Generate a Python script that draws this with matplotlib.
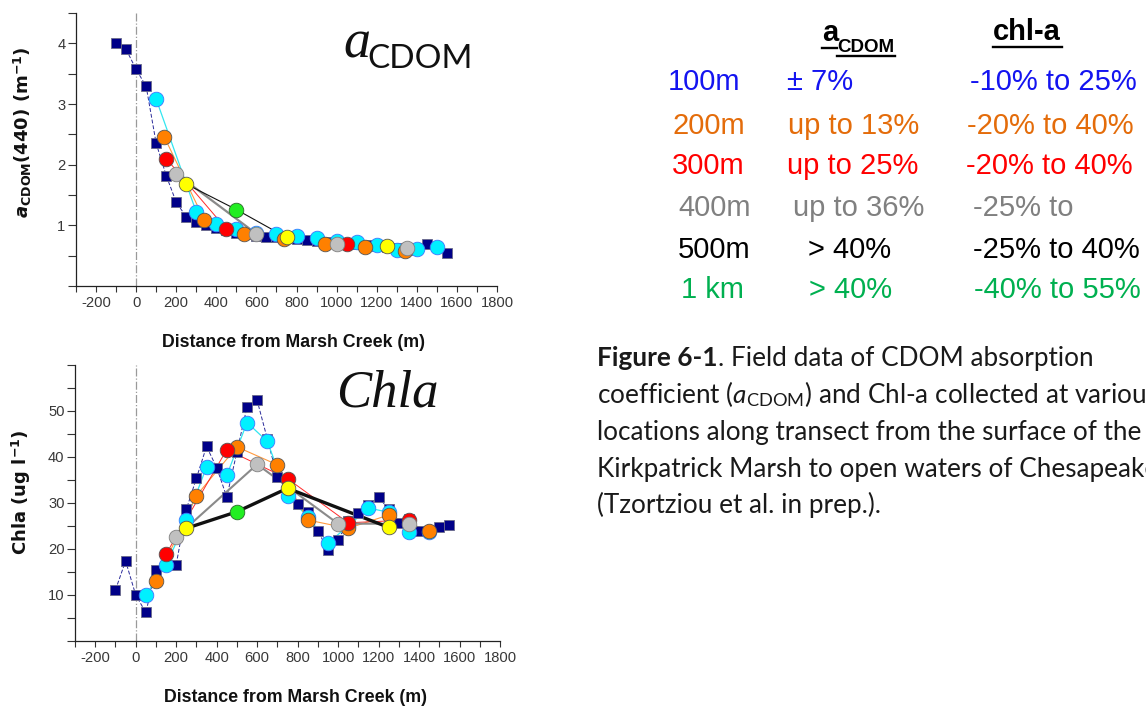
import matplotlib
matplotlib.use('Agg')
import matplotlib.pyplot as plt
from matplotlib.lines import Line2D
from matplotlib.ticker import MultipleLocator

plt.rcParams['axes.unicode_minus'] = False
plt.rcParams['mathtext.fontset'] = 'custom'
plt.rcParams['mathtext.rm'] = 'Lato'
plt.rcParams['mathtext.it'] = 'Lato:italic'
plt.rcParams['mathtext.bf'] = 'DejaVu Sans:bold'
try:
    plt.rcParams['mathtext.bfit'] = 'DejaVu Sans:bold:italic'
    BFIT = True
except Exception:
    BFIT = False

# ---------------- data: a_CDOM(440) (m^-1) ----------------
cdom_navy_x = [-100, -50, 0, 50, 100, 150, 200, 250, 300, 350, 400, 450, 500, 550, 600, 650, 700,
               750, 800, 850, 900, 950, 1000, 1050, 1100, 1150, 1200, 1250, 1300, 1350, 1400, 1450, 1550]
cdom_navy_y = [4.00, 3.90, 3.57, 3.29, 2.35, 1.82, 1.38, 1.14, 1.06, 1.00, 0.95, 0.92, 0.88, 0.86, 0.83, 0.81, 0.80,
               0.79, 0.78, 0.76, 0.74, 0.72, 0.71, 0.70, 0.69, 0.67, 0.66, 0.65, 0.62, 0.60, 0.62, 0.69, 0.54]
cdom_cyan_x = [100, 300, 400, 500, 600, 700, 800, 900, 1000, 1100, 1200, 1300, 1400, 1500]
cdom_cyan_y = [3.08, 1.22, 1.02, 0.94, 0.88, 0.85, 0.83, 0.79, 0.74, 0.72, 0.67, 0.60, 0.61, 0.65]
cdom_orange_x = [140, 340, 540, 740, 940, 1140, 1340]
cdom_orange_y = [2.46, 1.09, 0.85, 0.77, 0.70, 0.65, 0.58]
cdom_red_x = [150, 450, 1050]
cdom_red_y = [2.10, 0.94, 0.69]
cdom_gray_x = [200, 600, 1000, 1350]
cdom_gray_y = [1.85, 0.86, 0.70, 0.62]
cdom_yellow_x = [250, 750, 1250]
cdom_yellow_y = [1.68, 0.80, 0.66]
cdom_green_x = [500]
cdom_green_y = [1.26]

# ---------------- data: Chla (ug l^-1) ----------------
chl_navy_x = [-100, -50, 0, 50, 100, 200, 250, 300, 350, 400, 450, 500, 550, 600, 650, 700, 750,
              800, 850, 900, 950, 1000, 1050, 1100, 1150, 1200, 1250, 1300, 1350, 1400, 1450, 1500, 1550]
chl_navy_y = [11.1, 17.4, 10.0, 6.2, 15.5, 16.6, 28.6, 35.4, 42.3, 37.7, 31.3, 41.1, 50.9, 52.3, 44.0, 35.6, 34.5,
              29.7, 28.1, 23.9, 19.8, 22.0, 26.0, 27.8, 29.5, 31.3, 28.6, 25.7, 26.5, 24.0, 23.6, 24.7, 25.2]
chl_cyan_x = [50, 150, 250, 350, 450, 550, 650, 750, 850, 950, 1050, 1150, 1250, 1350, 1450]
chl_cyan_y = [10.0, 16.5, 26.3, 37.8, 36.0, 47.5, 43.4, 31.6, 27.0, 21.3, 25.0, 28.9, 28.0, 23.8, 23.7]
chl_orange_x = [100, 300, 500, 700, 850, 1050, 1250, 1450]
chl_orange_y = [13.0, 31.6, 42.2, 38.3, 26.3, 24.5, 27.4, 23.9]
chl_red_x = [150, 450, 750, 1050, 1350]
chl_red_y = [18.9, 41.6, 35.3, 25.7, 26.3]
chl_gray_x = [200, 600, 1000, 1350]
chl_gray_y = [22.6, 38.4, 25.5, 25.5]
chl_yellow_x = [250, 750, 1250]
chl_yellow_y = [24.5, 33.2, 24.7]
chl_green_x = [500]
chl_green_y = [28.1]

x_ticks = [-200, 0, 200, 400, 600, 800, 1000, 1200, 1400, 1600, 1800]
cdom_ticks = [1, 2, 3, 4]
chl_ticks = [10, 20, 30, 40, 50]

# table
row_labels = ['100m', '200m', '300m', '400m', '500m', '1 km']
row_cdom = ['\u00b1 7%', 'up to 13%', 'up to 25%', 'up to 36%', '> 40%', '> 40%']
row_chl = ['-10% to 25%', '-20% to 40%', '-20% to 40%', '-25% to', '-25% to 40%', '-40% to 55%']
row_colors = ['#1414F0', '#E46C0A', '#FF0000', '#808080', '#000000', '#00B050']

W, H = 1146, 708
fig = plt.figure(figsize=(W / 100, H / 100), dpi=100)
fig.patch.set_facecolor('white')


def fx(x):
    return x / W


def fy(y):
    return 1 - y / H


TICKFONT = dict(family='Liberation Sans', size=10.6, color='#383838')


def style_axes(ax, ylim, yticks, yminor):
    ax.set_xlim(-300, 1800)
    ax.set_ylim(*ylim)
    ax.spines['top'].set_visible(False)
    ax.spines['right'].set_visible(False)
    for s in ('left', 'bottom'):
        ax.spines[s].set_linewidth(0.9)
        ax.spines[s].set_color('#222222')
    ax.set_xticks(x_ticks)
    ax.xaxis.set_minor_locator(MultipleLocator(100))
    ax.set_yticks(yticks)
    ax.yaxis.set_minor_locator(MultipleLocator(yminor))
    ax.tick_params(axis='both', which='both', direction='out', color='#333333', width=0.8)
    ax.tick_params(axis='x', which='both', length=4, pad=3)
    ax.tick_params(axis='y', which='both', length=5.5, pad=2)
    for lab in ax.get_xticklabels() + ax.get_yticklabels():
        lab.set_fontfamily(TICKFONT['family'])
        lab.set_fontsize(TICKFONT['size'])
        lab.set_color(TICKFONT['color'])
    ax.axvline(0, color='#9a9a9a', lw=0.9, ls='-.', zorder=1)


def draw_series(ax, lw_black, lw_gray, data):
    (nx, ny, cx, cy, ox, oy, rx, ry, gx, gy, yx, yy, grx, gry) = data
    # lines
    ax.plot(nx, ny, color='#2a2a9a', lw=0.7, ls=(0, (4, 2)), zorder=2)
    ax.plot(cx, cy, color='#33e6f0', lw=0.9, zorder=2)
    ax.plot(ox, oy, color='#ff9a40', lw=0.8, zorder=2)
    ax.plot(rx, ry, color='#ff2a2a', lw=0.7, zorder=2)
    ax.plot(gx, gy, color='#8a8a8a', lw=lw_gray, zorder=2)
    bx = [yx[0], grx[0], yx[1], yx[2]]
    by = [yy[0], gry[0], yy[1], yy[2]]
    ax.plot(bx, by, color='#111111', lw=lw_black, zorder=2.5)
    # markers
    ax.plot(nx, ny, ls='none', marker='s', ms=7.2, mfc='#000088', mec='#6a6a8a', mew=0.6, zorder=3)
    ax.plot(cx, cy, ls='none', marker='o', ms=10.5, mfc='#00F0FF', mec='#3c78ff', mew=0.6, zorder=4)
    ax.plot(ox, oy, ls='none', marker='o', ms=10.5, mfc='#FF8000', mec='#555555', mew=0.6, zorder=5)
    ax.plot(rx, ry, ls='none', marker='o', ms=10.5, mfc='#FF0000', mec='#555555', mew=0.6, zorder=6)
    ax.plot(gx, gy, ls='none', marker='o', ms=10.5, mfc='#C0C0C0', mec='#808080', mew=0.6, zorder=7)
    ax.plot(yx, yy, ls='none', marker='o', ms=10.5, mfc='#FFFF00', mec='#555555', mew=0.6, zorder=8)
    ax.plot(grx, gry, ls='none', marker='o', ms=10.5, mfc='#22EE22', mec='#2a6a2a', mew=0.6, zorder=8)


# ---------------- top axes ----------------
ax1 = fig.add_axes([fx(76), fy(286), (497 - 76) / W, (286 - 13) / H])
draw_series(ax1, 0.8, 1.6,
            (cdom_navy_x, cdom_navy_y, cdom_cyan_x, cdom_cyan_y, cdom_orange_x, cdom_orange_y,
             cdom_red_x, cdom_red_y, cdom_gray_x, cdom_gray_y, cdom_yellow_x, cdom_yellow_y,
             cdom_green_x, cdom_green_y))
style_axes(ax1, (0, 4.5), cdom_ticks, 0.5)

# ---------------- bottom axes ----------------
ax2 = fig.add_axes([fx(75), fy(641), (500 - 75) / W, (641 - 365) / H])
draw_series(ax2, 2.4, 1.5,
            (chl_navy_x, chl_navy_y, chl_cyan_x, chl_cyan_y, chl_orange_x, chl_orange_y,
             chl_red_x, chl_red_y, chl_gray_x, chl_gray_y, chl_yellow_x, chl_yellow_y,
             chl_green_x, chl_green_y))
style_axes(ax2, (0, 60), chl_ticks, 5)

# axis labels
XLAB = 'Distance from Marsh Creek (m)'
fig.text(fx(294), fy(342), XLAB, ha='center', va='center', family='Liberation Sans',
         weight='bold', size=12.8, color='#111111')
fig.text(fx(295), fy(697), XLAB, ha='center', va='center', family='Liberation Sans',
         weight='bold', size=12.8, color='#111111')
if BFIT:
    ylab1 = r'$\mathbfit{a}_{\mathbf{CDOM}}$(440) (m$^{\mathbf{-1}}$)'
else:
    ylab1 = r'$\mathbf{a}_{\mathbf{CDOM}}$(440) (m$^{\mathbf{-1}}$)'
fig.text(fx(23), fy(132), ylab1, rotation=90, ha='center', va='center', family='DejaVu Sans',
         weight='bold', size=13, color='#111111')
fig.text(fx(21), fy(492), r'Chla (ug l$^{\mathbf{-1}}$)', rotation=90, ha='center', va='center',
         family='DejaVu Sans', weight='bold', size=13, color='#111111')

# panel titles
fig.text(fx(343), fy(57), 'a', family='Liberation Serif', style='italic', size=39, color='#111111',
         ha='left', va='baseline')
fig.text(fx(367), fy(68), 'CDOM', family='Lato', size=24, color='#111111', ha='left', va='baseline')
fig.text(fx(336), fy(407), 'Chla', family='Liberation Serif', style='italic', size=38, color='#111111',
         ha='left', va='baseline')

# ---------------- table ----------------
row_base = [89.5, 133.5, 173.5, 216.5, 257.5, 297.5]
col1_x = [668, 672, 672, 678, 678, 681]
col2_x = [787, 788, 787, 793, 808, 809]
col3_x = [970, 967, 966, 973, 973, 974]
TF = dict(family='Liberation Sans', size=21, ha='left', va='baseline')
for i in range(len(row_labels)):
    fig.text(fx(col1_x[i]), fy(row_base[i]), row_labels[i], color=row_colors[i], **TF)
    fig.text(fx(col2_x[i]), fy(row_base[i]), row_cdom[i], color=row_colors[i], **TF)
    fig.text(fx(col3_x[i]), fy(row_base[i]), row_chl[i], color=row_colors[i], **TF)

fig.text(fx(822), fy(41), 'a', family='Liberation Sans', weight='bold', size=21,
         ha='left', va='baseline', color='black')
fig.text(fx(837), fy(52), 'CDOM', family='Liberation Sans', weight='bold', size=13.5,
         ha='left', va='baseline', color='black')
fig.text(fx(993), fy(40.5), 'chl-a', family='Liberation Sans', weight='bold', size=21,
         ha='left', va='baseline', color='black')
for (x0, x1, yy) in [(822, 837, 47.5), (837, 895, 55.5), (993, 1062, 46.5)]:
    fig.add_artist(Line2D([fx(x0), fx(x1)], [fy(yy), fy(yy)], color='black', lw=1.7,
                          transform=fig.transFigure))

# ---------------- caption ----------------
CF = dict(family='Lato', size=18.8, ha='left', va='baseline', color='#1a1a1a')
cap_x = 597
cap_base = [366, 403, 440, 477, 513]
t = fig.text(fx(cap_x), fy(cap_base[0]), 'Figure 6-1', weight='bold', **CF)
fig.canvas.draw()
bb = t.get_window_extent()
fig.text(bb.x1 / W, fy(cap_base[0]), '. Field data of CDOM absorption', **CF)
fig.text(fx(cap_x), fy(cap_base[1]),
         r'coefficient ($\mathit{a}_{\mathrm{CDOM}}$) and Chl-a collected at various', **CF)
fig.text(fx(cap_x), fy(cap_base[2]), 'locations along transect from the surface of the', **CF)
fig.text(fx(cap_x), fy(cap_base[3]), 'Kirkpatrick Marsh to open waters of Chesapeake Bay', **CF)
fig.text(fx(cap_x), fy(cap_base[4]), '(Tzortziou et al. in prep.).', **CF)

fig.savefig('out.png', dpi=100, facecolor='white')
